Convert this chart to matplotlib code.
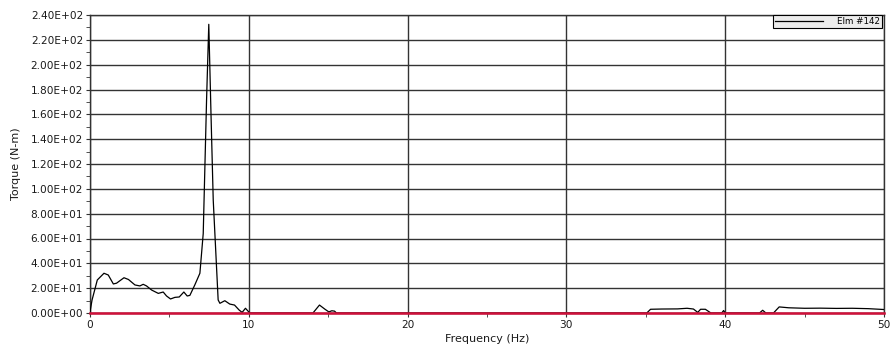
import matplotlib
matplotlib.use("Agg")
import matplotlib.pyplot as plt
from matplotlib.ticker import MultipleLocator, FuncFormatter
from matplotlib.lines import Line2D

freq = [0.0, 0.13, 0.46, 0.88, 1.15, 1.47, 1.67, 2.14, 2.42, 2.83, 3.14, 3.35, 3.56,
        3.88, 4.3, 4.61, 4.82, 5.07, 5.35, 5.62, 5.91, 6.12, 6.29, 6.6, 6.92, 7.13,
        7.34, 7.48, 7.62, 7.76, 8.07, 8.18, 8.49, 8.8, 9.1, 9.39, 9.58, 9.79, 10.06,
        14.04, 14.45, 14.8, 15.04, 15.23, 15.4, 15.52,
        35.06, 35.3, 36.0, 37.0, 37.6, 38.0, 38.27, 38.45, 38.75, 39.1, 39.78, 39.9,
        40.0, 42.16, 42.36, 42.56, 43.04, 43.4, 44.0, 45.0, 46.0, 47.0, 48.0, 49.0, 50.0]
torque = [1.0, 10.5, 26.6, 32.0, 30.6, 23.4, 24.0, 28.4, 27.0, 22.6, 21.8, 23.1, 21.8,
          18.5, 15.8, 16.9, 13.7, 11.3, 12.6, 12.9, 16.9, 13.7, 14.2, 22.6, 32.0, 64.0,
          171.5, 232.5, 160.0, 91.0, 10.5, 7.8, 9.9, 7.2, 6.4, 2.4, 0.5, 3.8, 0.0,
          0.0, 6.4, 3.0, 0.9, 1.8, 1.5, 0.0,
          0.0, 3.0, 3.2, 3.3, 3.8, 3.2, 0.5, 3.0, 3.0, 0.0, 0.0, 2.0,
          0.0, 0.0, 2.2, 0.0, 0.0, 4.9, 4.2, 3.8, 3.9, 3.7, 3.8, 3.5, 2.8]
zero_freq = [0.0, 50.0]
zero_torque = [0.0, 0.0]
series_label = "Elm #142"

W, H = 892, 354
fig = plt.figure(figsize=(W / 100, H / 100), dpi=100)
ax = fig.add_axes([90 / W, (H - 313) / H, (884 - 90) / W, (313 - 15) / H])

grid_c = "#333333"
txt_c = "#1a1a1a"
ax.set_xlim(0, 50)
ax.set_ylim(0, 240)
ax.xaxis.set_major_locator(MultipleLocator(10))
ax.xaxis.set_minor_locator(MultipleLocator(5))
ax.yaxis.set_major_locator(MultipleLocator(20))
ax.yaxis.set_minor_locator(MultipleLocator(10))
ax.yaxis.set_major_formatter(FuncFormatter(lambda v, p: "%.2E" % v))
ax.grid(True, which="major", color=grid_c, linewidth=1.0)
ax.set_axisbelow(True)
for s in ax.spines.values():
    s.set_color(grid_c)
    s.set_linewidth(1.0)
ax.tick_params(which="both", direction="out", color=grid_c, labelsize=7.6,
               labelcolor=txt_c, pad=2, length=3)

ax.plot(freq, torque, color="black", linewidth=0.9, zorder=3)
ax.plot(zero_freq, zero_torque, color="#d0103a", linewidth=1.8, zorder=4, clip_on=False)

ax.set_xlabel("Frequency (Hz)", fontsize=8, color=txt_c, labelpad=3)
ax.set_ylabel("Torque (N-m)", fontsize=8, color=txt_c, labelpad=7)

leg = ax.legend([Line2D([0], [0], color="black", linewidth=0.9)], [series_label],
                loc="upper right", bbox_to_anchor=(0.9975, 1.0), fontsize=6.3,
                frameon=True, fancybox=False, borderpad=0.25, handlelength=5.5,
                handletextpad=1.6, borderaxespad=0.0)
leg.get_frame().set_facecolor("#ececec")
leg.get_frame().set_edgecolor("black")
leg.get_frame().set_linewidth(0.8)
leg.get_frame().set_alpha(1)

fig.savefig("out.png", dpi=100, facecolor="white")
